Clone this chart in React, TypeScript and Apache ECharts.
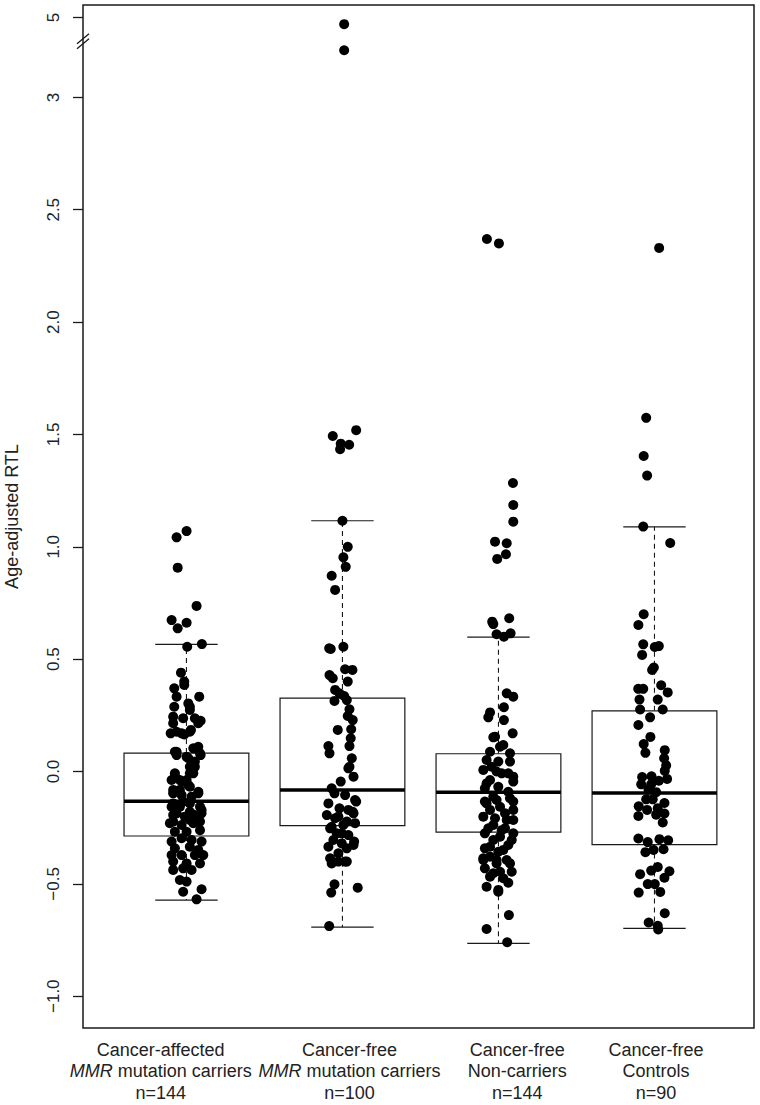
import React, { useEffect, useRef } from "react";
import * as echarts from "echarts";

const FONT = "'Liberation Sans', Arial, Helvetica, sans-serif";

// ---- categories ----
const groupLine1 = ["Cancer-affected", "Cancer-free", "Cancer-free", "Cancer-free"];
const groupLine2 = ["{i|MMR} mutation carriers", "{i|MMR} mutation carriers", "Non-carriers", "Controls"];
const groupCounts = [144, 100, 144, 90];
// horizontal placement of each category label relative to its tick (axis units)
const labelShift = [-0.165, 0.045, 0.12, 0.01];

// ---- box statistics ----
const lowerWhisker = [-0.572, -0.693, -0.765, -0.698];
const q1 = [-0.287, -0.241, -0.27, -0.325];
const median = [-0.132, -0.082, -0.092, -0.096];
const q3 = [0.082, 0.327, 0.079, 0.27];
const upperWhisker = [0.566, 1.116, 0.598, 1.089];

// ---- y axis ticks (real values) ----
const yTickValues = [-1, -0.5, 0, 0.5, 1, 1.5, 2, 2.5, 3, 5];
const yTickLabels = ["−1.0", "−0.5", "0.0", "0.5", "1.0", "1.5", "2.0", "2.5", "3", "5"];
const BREAK_SHIFT = 1.644; // values above the axis break are drawn shifted down
const BREAK_FROM = 4;
const BREAK_MARK = 3.25;

// ---- jittered points: [horizontal jitter, value] ----
const points1: [number, number][] = [
  [-0.063, 1.042], [0.001, 1.07], [-0.056, 0.907], [0.065, 0.737], [-0.095, 0.674], [0.001, 0.662],
  [-0.056, 0.637], [0.005, 0.555], [0.099, 0.567], [-0.035, 0.44], [-0.014, 0.4], [-0.014, 0.385],
  [-0.078, 0.37], [-0.063, 0.333], [0.082, 0.333], [-0.078, 0.288], [0.012, 0.303], [0.022, 0.274],
  [-0.085, 0.244], [-0.021, 0.237], [0.054, 0.237], [0.091, 0.226], [-0.085, 0.215], [0.076, 0.215],
  [-0.101, 0.17], [-0.063, 0.177], [-0.014, 0.165], [0.029, 0.185], [-0.074, 0.088], [-0.063, 0.073],
  [0.076, 0.11], [0.091, 0.073], [0.001, 0.066], [0.054, 0.044], [0.022, 0.021], [-0.074, -0.023],
  [-0.042, -0.038], [0.001, -0.038], [0.044, -0.008], [-0.085, -0.097], [-0.042, -0.082], [0.076, -0.097],
  [0.022, -0.068], [-0.085, -0.142], [-0.021, -0.134], [0.097, -0.171], [0.022, -0.179], [-0.063, -0.186],
  [-0.085, -0.223], [0.022, -0.216], [0.087, -0.223], [0.022, 0.288], [-0.031, 0.17], [0.022, 0.177],
  [-0.063, 0.088], [0.044, 0.103], [0.087, 0.081], [0.012, 0.059], [0.054, 0.021], [-0.074, -0.008],
  [0.022, -0.008], [-0.095, -0.038], [-0.031, -0.045], [0.012, -0.06], [-0.085, -0.082], [0.076, -0.09],
  [-0.031, -0.105], [0.033, -0.112], [-0.095, -0.157], [-0.042, -0.157], [0.022, -0.142], [0.087, -0.157],
  [0.097, -0.186], [-0.085, -0.194], [-0.01, -0.201], [0.054, -0.194], [-0.106, -0.23], [-0.031, -0.238],
  [0.044, -0.23], [-0.074, -0.268], [0.001, -0.268], [0.087, -0.261], [-0.095, -0.312], [-0.031, -0.297],
  [0.033, -0.305], [0.097, -0.312], [-0.074, -0.342], [0.022, -0.335], [0.076, -0.349], [-0.095, -0.372],
  [-0.031, -0.372], [0.054, -0.372], [0.108, -0.372], [-0.085, -0.401], [0.001, -0.409], [0.087, -0.409],
  [-0.085, -0.438], [-0.021, -0.431], [0.033, -0.438], [-0.042, -0.483], [0.001, -0.49], [-0.021, -0.535],
  [0.097, -0.524], [0.065, -0.569],
];

const points2: [number, number][] = [
  [0.011, 4.97], [0.011, 3.21], [-0.062, 1.493], [0.088, 1.519], [0.043, 1.454], [-0.011, 1.459],
  [-0.015, 1.434], [0, 1.116], [0.034, 1.0], [0.006, 0.953], [0.021, 0.911], [-0.069, 0.871],
  [-0.047, 0.808], [-0.085, 0.548], [-0.075, 0.545], [0.006, 0.555], [0.017, 0.455], [0.064, 0.452],
  [-0.083, 0.429], [-0.062, 0.415], [0.034, 0.4], [-0.047, 0.363], [-0.019, 0.348], [0.011, 0.336],
  [-0.051, 0.314], [0.028, 0.318], [0.045, 0.277], [0.034, 0.247], [0.066, 0.229], [-0.03, 0.185],
  [0.056, 0.188], [0.053, 0.148], [-0.09, 0.113], [0.045, 0.113], [-0.083, 0.081], [0.06, 0.059],
  [0.045, 0.021], [0.071, -0.023], [-0.011, -0.045], [-0.051, -0.097], [0.017, -0.105], [0.088, -0.134],
  [-0.09, -0.142], [-0.019, -0.164], [0.066, -0.179], [-0.1, -0.194], [-0.047, -0.208], [0.028, -0.223],
  [-0.079, -0.253], [-0.004, -0.275], [0.075, -0.312], [-0.058, -0.305], [-0.09, -0.335], [0.028, -0.342],
  [-0.079, -0.386], [-0.026, -0.401], [0.017, -0.401], [-0.051, -0.502], [-0.072, -0.539], [0.098, -0.517],
  [-0.085, -0.688], [0.038, 0.014], [-0.069, -0.075], [0.081, -0.127], [0.038, -0.171], [-0.026, -0.201],
  [0.071, -0.186], [-0.069, -0.246], [0.006, -0.238], [0.081, -0.23], [-0.037, -0.275], [0.038, -0.283],
  [-0.004, -0.32], [0.071, -0.327], [-0.026, -0.364], [0.028, -0.401], [-0.069, -0.409],
];

const points3: [number, number][] = [
  [-0.074, 2.37], [0.003, 2.35], [0.093, 1.284], [0.095, 1.186], [0.095, 1.112], [-0.022, 1.023],
  [0.053, 1.016], [0.048, 0.967], [-0.008, 0.946], [-0.04, 0.667], [0.069, 0.682], [-0.033, 0.656],
  [-0.012, 0.611], [0.035, 0.6], [0.078, 0.615], [0.053, 0.348], [0.095, 0.333], [0.035, 0.286],
  [-0.054, 0.263], [-0.065, 0.241], [0.035, 0.229], [-0.033, 0.152], [0.091, 0.17], [0.01, 0.11],
  [-0.076, 0.051], [0.074, 0.044], [-0.044, 0.021], [-0.097, 0.007], [0.021, -0.008], [0.095, -0.023],
  [-0.076, -0.053], [-0.001, -0.068], [0.063, -0.09], [-0.087, -0.134], [-0.012, -0.127], [0.095, -0.134],
  [-0.054, -0.171], [0.042, -0.186], [-0.097, -0.201], [0.095, -0.216], [-0.033, -0.238], [0.042, -0.253],
  [-0.087, -0.275], [0.01, -0.29], [0.085, -0.305], [-0.054, -0.335], [0.031, -0.349], [-0.097, -0.386],
  [-0.012, -0.394], [0.074, -0.409], [-0.087, -0.431], [0.01, -0.446], [-0.054, -0.468], [-0.076, -0.513],
  [-0.001, -0.527], [0.067, -0.639], [-0.076, -0.701], [0.056, -0.76], [-0.022, 0.155], [0.031, 0.118],
  [-0.054, 0.088], [0.074, 0.081], [-0.001, 0.044], [-0.012, 0.0], [0.063, -0.008], [-0.054, -0.038],
  [0.095, -0.045], [-0.087, -0.075], [-0.033, -0.112], [0.074, -0.119], [-0.076, -0.142], [0.01, -0.157],
  [0.095, -0.171], [-0.022, -0.208], [0.053, -0.216], [-0.065, -0.253], [0.021, -0.261], [0.095, -0.275],
  [-0.033, -0.305], [0.063, -0.327], [-0.087, -0.342], [-0.001, -0.357], [-0.054, -0.379], [0.053, -0.394],
  [-0.097, -0.394], [-0.012, -0.409], [0.085, -0.446], [-0.033, -0.453], [0.031, -0.475], [0.063, -0.495],
  [-0.001, -0.535],
];

const points4: [number, number][] = [
  [0.03, 2.33], [-0.053, 1.574], [-0.069, 1.404], [-0.047, 1.317], [-0.072, 1.09], [0.101, 1.017],
  [-0.069, 0.7], [-0.103, 0.652], [-0.072, 0.566], [0.002, 0.554], [0.028, 0.558], [-0.079, 0.519],
  [-0.015, 0.452], [-0.004, 0.463], [-0.104, 0.368], [-0.072, 0.368], [0.043, 0.384], [0.085, 0.352],
  [0.021, 0.32], [-0.096, 0.32], [-0.092, 0.276], [0.053, 0.276], [-0.028, 0.241], [-0.103, 0.207],
  [-0.026, 0.154], [-0.069, 0.122], [-0.058, 0.083], [0.066, 0.095], [0.062, 0.059], [0.075, 0.027],
  [0.066, 0.003], [-0.079, -0.025], [-0.019, -0.021], [0.081, -0.033], [-0.085, -0.057], [-0.021, -0.057],
  [0.028, -0.041], [-0.038, -0.081], [0.011, -0.092], [-0.053, -0.124], [0.064, -0.14], [-0.011, -0.124],
  [-0.101, -0.155], [-0.047, -0.171], [0.021, -0.163], [-0.103, -0.198], [0.011, -0.192], [0.064, -0.187],
  [0.053, -0.227], [-0.103, -0.298], [-0.043, -0.314], [0.032, -0.301], [0.088, -0.306], [-0.058, -0.359],
  [-0.006, -0.349], [0.058, -0.346], [-0.092, -0.457], [-0.021, -0.441], [0.021, -0.425], [0.096, -0.444],
  [-0.043, -0.501], [0.064, -0.473], [0.037, -0.536], [-0.101, -0.539], [0.002, -0.501], [-0.037, -0.672],
  [0.066, -0.631], [0.021, -0.687], [0.024, -0.703],
];

const allPoints = [points1, points2, points3, points4];

const toDisplay = (v: number) => (v > BREAK_FROM ? v - BREAK_SHIFT : v);

const X_MIN = 0.337;
const X_MAX = 4.638;

function buildOption() {
  const boxData = groupCounts.map((_, i) => [
    i + 1,
    lowerWhisker[i],
    q1[i],
    median[i],
    q3[i],
    upperWhisker[i],
  ]);
  const scatterData: number[][] = [];
  allPoints.forEach((pts, gi) => {
    pts.forEach(([dx, v]) => scatterData.push([gi + 1 + dx, toDisplay(v)]));
  });
  const xLabels = groupCounts.map((n, i) => `${groupLine1[i]}\n${groupLine2[i]}\nn=${n}`);
  const labelPositions = groupCounts.map((_, i) => i + 1 + labelShift[i]);
  const yDisplayTicks = yTickValues.map(toDisplay);

  return {
    animation: false,
    backgroundColor: "#ffffff",
    grid: {
      left: 83,
      right: 6,
      top: 5,
      bottom: 77,
      show: true,
      borderColor: "#1a1a1a",
      borderWidth: 1.5,
      backgroundColor: "transparent",
      containLabel: false,
      outerBoundsMode: "none",
    },
    xAxis: {
      type: "value",
      min: X_MIN,
      max: X_MAX,
      splitLine: { show: false },
      axisLine: { show: false },
      axisTick: { show: true, customValues: [1, 2, 3, 4], length: 10, lineStyle: { color: "#1a1a1a", width: 1.3 } },
      axisLabel: {
        customValues: labelPositions,
        hideOverlap: false,
        showMinLabel: true,
        showMaxLabel: true,
        formatter: (v: number) => {
          const i = labelPositions.findIndex((p) => Math.abs(p - v) < 1e-6);
          return i >= 0 ? xLabels[i] : "";
        },
        margin: 11,
        color: "#222",
        fontFamily: FONT,
        fontSize: 18,
        lineHeight: 21.5,
        align: "center",
        rich: {
          i: { fontStyle: "italic", fontFamily: FONT, fontSize: 18, color: "#222", lineHeight: 21.5 },
        },
      },
    },
    yAxis: {
      type: "value",
      min: -1.1415,
      max: 3.4112,
      splitLine: { show: false },
      axisLine: { show: false },
      axisTick: { show: true, customValues: yDisplayTicks, length: 10, lineStyle: { color: "#1a1a1a", width: 1.3 } },
      axisLabel: {
        customValues: yDisplayTicks,
        hideOverlap: false,
        rotate: 90,
        margin: 21,
        color: "#222",
        fontFamily: FONT,
        fontSize: 17,
        formatter: (v: number) => {
          const i = yDisplayTicks.findIndex((t) => Math.abs(t - v) < 1e-6);
          return i >= 0 ? yTickLabels[i] : "";
        },
      },
      name: "Age-adjusted RTL",
      nameLocation: "middle",
      nameRotate: 90,
      nameGap: 62,
      nameTextStyle: { fontFamily: FONT, fontSize: 18, color: "#222" },
    },
    series: [
      {
        type: "custom",
        data: boxData,
        encode: { x: 0, y: [1, 2, 3, 4, 5] },
        z: 2,
        renderItem: (_params: any, api: any) => {
          const x = api.value(0);
          const pLo = api.coord([x, api.value(1)]);
          const pQ1 = api.coord([x, api.value(2)]);
          const pMed = api.coord([x, api.value(3)]);
          const pQ3 = api.coord([x, api.value(4)]);
          const pHi = api.coord([x, api.value(5)]);
          const half = api.size([0.4, 0])[0];
          const cap = api.size([0.2, 0])[0];
          const cx = pMed[0];
          const stroke = "#1a1a1a";
          return {
            type: "group",
            children: [
              { type: "line", shape: { x1: cx, y1: pQ3[1], x2: cx, y2: pHi[1] }, style: { stroke, lineWidth: 1.1, lineDash: [5, 4] } },
              { type: "line", shape: { x1: cx, y1: pQ1[1], x2: cx, y2: pLo[1] }, style: { stroke, lineWidth: 1.1, lineDash: [5, 4] } },
              { type: "line", shape: { x1: cx - cap, y1: pHi[1], x2: cx + cap, y2: pHi[1] }, style: { stroke, lineWidth: 1.2 } },
              { type: "line", shape: { x1: cx - cap, y1: pLo[1], x2: cx + cap, y2: pLo[1] }, style: { stroke, lineWidth: 1.2 } },
              {
                type: "rect",
                shape: { x: cx - half, y: pQ3[1], width: half * 2, height: pQ1[1] - pQ3[1] },
                style: { fill: "#ffffff", stroke, lineWidth: 1.2 },
              },
              { type: "line", shape: { x1: cx - half, y1: pMed[1], x2: cx + half, y2: pMed[1] }, style: { stroke: "#000", lineWidth: 3.5 } },
            ],
          };
        },
      },
      {
        type: "scatter",
        data: scatterData,
        symbol: "circle",
        symbolSize: 10,
        z: 5,
        itemStyle: { color: "#000", opacity: 1 },
      },
    ],
  };
}

export default function App() {
  const ref = useRef<HTMLDivElement>(null);
  useEffect(() => {
    if (!ref.current) return;
    const chart = echarts.init(ref.current, null, { renderer: "svg" });
    chart.setOption(buildOption() as any);
    const p = chart.convertToPixel({ gridIndex: 0 }, [X_MIN, BREAK_MARK]) as number[];
    if (p) {
      const [bx, by] = p;
      chart.setOption({
        graphic: [-2.5, 2.5].map((off) => ({
          type: "line",
          z: 100,
          shape: { x1: bx - 6, y1: by + off + 5, x2: bx + 6, y2: by + off - 5 },
          style: { stroke: "#1a1a1a", lineWidth: 1.3 },
        })),
      });
    }
    return () => chart.dispose();
  }, []);
  return (
    <div
      ref={ref}
      style={{ position: "absolute", left: 0, top: 0, width: 760, height: 1105, background: "#fff" }}
    />
  );
}
